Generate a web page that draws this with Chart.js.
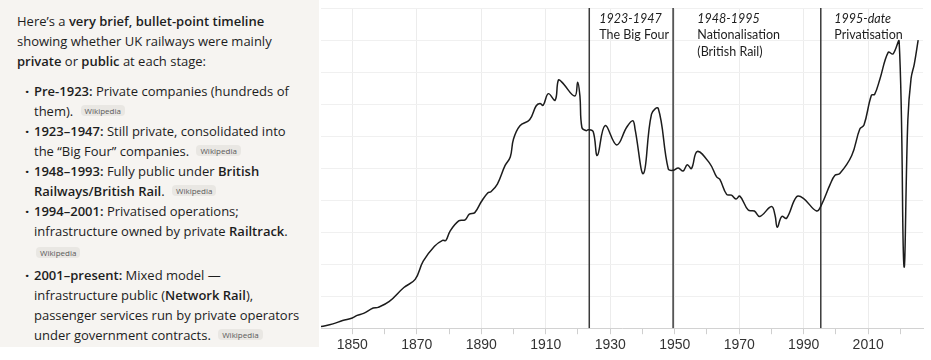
<!DOCTYPE html>
<html>
<head>
<meta charset="utf-8">
<script src="https://cdn.jsdelivr.net/npm/chart.js@4"></script>
<style>
  html, body { margin: 0; padding: 0; background: #fff; }
  body { width: 931px; height: 360px; position: relative; overflow: hidden; }
  #notes {
    position: absolute; left: 0; top: 0; width: 319px; height: 347px;
    background: #f6f4f1; color: #1d1d1d;
    font-family: "Open Sans", sans-serif; font-size: 13px; line-height: 20px;
  }
  #notes p { margin: 11px 0 0 17px; }
  #notes ul { list-style: none; margin: 10px 0 0 0; padding: 0; }
  #notes li { position: relative; padding-left: 34px; }
  #notes li::before { content: "\00B7"; position: absolute; left: 25px; top: 0; font-weight: 700; font-size: 15px; }
  #notes b { font-weight: 600; }
  .src {
    display: inline-block; font-size: 8px; line-height: 11px; color: #5a5a5a;
    background: #e9e7e3; border-radius: 4px; padding: 0 4px; margin-left: 4px;
    vertical-align: 2px;
  }
  .srcline { height: 22px; padding-top: 2px; }
  .srcline .src { margin-left: 2px; }
  #wrap { position: absolute; left: 320px; top: 0; width: 611px; height: 360px; }
</style>
</head>
<body>
<div id="notes">
  <p>Here’s a <b>very brief, bullet-point timeline</b><br>showing whether UK railways were mainly<br><b>private</b> or <b>public</b> at each stage:</p>
  <ul>
    <li><b>Pre-1923:</b> Private companies (hundreds of<br>them). <span class="src">Wikipedia</span></li>
    <li><b>1923–1947:</b> Still private, consolidated into<br>the “Big Four” companies. <span class="src">Wikipedia</span></li>
    <li><b>1948–1993:</b> Fully public under <b>British<br>Railways/British Rail</b>. <span class="src">Wikipedia</span></li>
    <li><b>1994–2001:</b> Privatised operations;<br>infrastructure owned by private <b>Railtrack</b>.<div class="srcline"><span class="src">Wikipedia</span></div></li>
    <li><b>2001–present:</b> Mixed model —<br>infrastructure public (<b>Network Rail</b>),<br>passenger services run by private operators<br>under government contracts. <span class="src">Wikipedia</span></li>
  </ul>
</div>
<div id="wrap"><canvas id="chart" width="611" height="360"></canvas></div>
<script>
// passenger journeys (millions)
const years = [1840.3, 1844, 1847, 1850, 1851.5, 1853.5, 1856.5, 1858, 1861.5, 1866,
  1869.5, 1872, 1875.5, 1878, 1879, 1880.3, 1883, 1885, 1886.3, 1888,
  1890, 1892, 1893, 1895, 1897.4, 1899, 1900, 1902, 1905, 1907,
  1908.2, 1909.2, 1910.8, 1912.9, 1913.9, 1915, 1919, 1919.9, 1920.6, 1921.2,
  1922.5, 1923.2, 1924.7, 1926, 1928.4, 1932, 1935.1, 1937, 1937.7, 1940.3,
  1942.8, 1944.9, 1948, 1949.5, 1951.1, 1952.6, 1953.9, 1955.2, 1957, 1960.9,
  1963, 1964, 1966.1, 1967.6, 1969, 1970.2, 1972.8, 1974.7, 1976.4, 1980,
  1981.1, 1981.8, 1983.2, 1984.7, 1987.8, 1989.9, 1994, 1995.5, 1998.2, 1999.7,
  2001.2, 2004.9, 2007.4, 2008.7, 2011, 2012, 2013.6, 2016.2, 2017.7, 2019.6,
  2021.1, 2022.3, 2023.3, 2024.3, 2025.5];
const journeys = [10, 27, 48, 64, 80, 93, 126, 130, 167, 254,
  305, 419, 512, 549, 547, 605, 670, 677, 712, 722,
  790, 845, 852, 900, 1017, 1069, 1182, 1265, 1302, 1388,
  1403, 1393, 1465, 1424, 1549, 1537, 1450, 1537, 1450, 1255,
  1234, 1240, 1228, 1079, 1265, 1145, 1255, 1296, 1244, 966,
  1337, 1372, 995, 986, 1001, 982, 1021, 997, 1104, 1028,
  945, 930, 836, 831, 807, 825, 738, 732, 698, 760,
  707, 631, 698, 687, 821, 811, 732, 770, 898, 955,
  966, 1079, 1244, 1269, 1455, 1461, 1554, 1723, 1713, 1791,
  388, 1300, 1560, 1650, 1800];

// era boundaries and their captions
const eraYears = [1923.5, 1949.5, 1995.3];
const eraLabelYears = [1926.6, 1957, 1999.5];
const eraTitles = ["1923-1947", "1948-1995", "1995-date"];
const eraNames = [["The Big Four"], ["Nationalisation", "(British Rail)"], ["Privatisation"]];

const tickYears = [1850, 1860, 1870, 1880, 1890, 1900, 1910, 1920, 1930, 1940,
  1950, 1960, 1970, 1980, 1990, 2000, 2010, 2020];
const labelYears = [1850, 1870, 1890, 1910, 1930, 1950, 1970, 1990, 2010];

const yMax = 2000;

const eraDatasets = eraYears.map(yr => ({
  data: [{ x: yr, y: 0 }, { x: yr, y: yMax }],
  borderColor: "#3a3a3a",
  borderWidth: 1.5,
  pointRadius: 0,
  tension: 0
}));

const eraText = {
  id: "eraText",
  afterDatasetsDraw(chart) {
    const ctx = chart.ctx;
    const x = chart.scales.x;
    const top = chart.chartArea.top;
    ctx.save();
    ctx.fillStyle = "#1e1e1e";
    ctx.textBaseline = "alphabetic";
    eraTitles.forEach((title, i) => {
      const px = x.getPixelForValue(eraLabelYears[i]);
      ctx.font = "italic 12.5px Lato";
      ctx.fillText(title, px, top + 14.5);
      ctx.font = "12.5px Lato";
      eraNames[i].forEach((line, k) => ctx.fillText(line, px, top + 31 + k * 16.5));
    });
    ctx.restore();
  }
};

new Chart(document.getElementById("chart"), {
  type: "line",
  data: {
    datasets: [{
      data: years.map((yr, i) => ({ x: yr, y: journeys[i] })),
      borderColor: "#1c1c1c",
      borderWidth: 1.5,
      pointRadius: 0,
      tension: 0.4
    }, ...eraDatasets]
  },
  options: {
    responsive: false,
    animation: false,
    devicePixelRatio: 1,
    layout: { padding: { left: 1, top: 8, right: 8, bottom: 3 } },
    plugins: { legend: { display: false }, tooltip: { enabled: false } },
    scales: {
      x: {
        type: "linear",
        min: 1840.3,
        max: 2027,
        afterBuildTicks: scale => { scale.ticks = tickYears.map(v => ({ value: v })); },
        grid: {
          color: c => labelYears.includes(c.tick && c.tick.value) ? "#ececec" : "rgba(0,0,0,0)",
          tickColor: "#cfcfcf",
          tickLength: 6
        },
        border: { color: "#d2d2d2", width: 1 },
        ticks: {
          autoSkip: false,
          maxRotation: 0,
          padding: 3,
          color: "#333",
          font: { family: "Liberation Sans", size: 14 },
          callback: v => labelYears.includes(v) ? String(v) : ""
        }
      },
      y: {
        min: 0,
        max: yMax,
        ticks: { display: false, stepSize: 200 },
        grid: { color: "#f0f0f0", drawTicks: false },
        border: { display: false }
      }
    }
  },
  plugins: [eraText]
});
</script>
</body>
</html>
